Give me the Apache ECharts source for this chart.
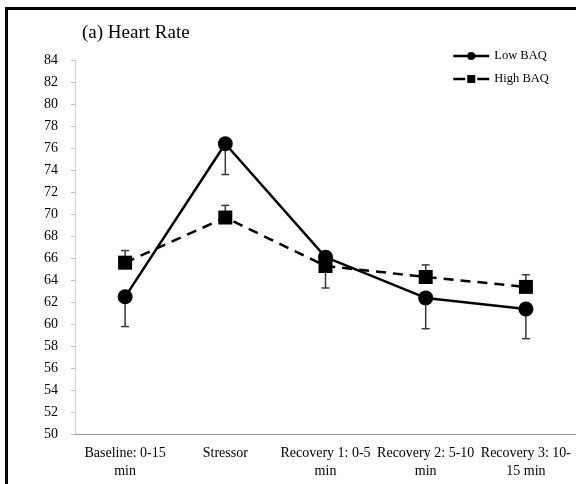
<!DOCTYPE html>
<html>
<head>
<meta charset="utf-8">
<script src="https://cdn.jsdelivr.net/npm/echarts@6/dist/echarts.min.js"></script>
<style>
  html, body { margin: 0; padding: 0; background: #fff; }
  #chart { width: 576px; height: 484px; }
</style>
</head>
<body>
<div id="chart"></div>
<script>
// categories (axis labels, wrapped like the original)
const categories = ['Baseline: 0-15\nmin', 'Stressor', 'Recovery 1: 0-5\nmin', 'Recovery 2: 5-10\nmin', 'Recovery 3: 10-\n15 min']

// mean heart rate
const lowBAQ = [62.5, 76.4, 66.1, 62.4, 61.4]
const highBAQ = [65.6, 69.7, 65.3, 64.3, 63.4]

// error bar ends (low goes down, high goes up)
const lowBAQErrEnd = [59.8, 73.6, 63.3, 59.6, 58.7]
const highBAQErrEnd = [66.7, 70.8, 66.3, 65.4, 64.5]

const yMin = 50
const yMax = 84
const yStep = 2

const font = 'Liberation Serif'

function errData(means, ends) {
  return means.map((m, i) => [i, m, ends[i]])
}

function renderErr(params, api) {
  const p0 = api.coord([api.value(0), api.value(1)])
  const p1 = api.coord([api.value(0), api.value(2)])
  const style = { stroke: '#3a3a3a', lineWidth: 1.5 }
  return {
    type: 'group',
    children: [
      { type: 'line', shape: { x1: p0[0], y1: p0[1], x2: p1[0], y2: p1[1] }, style: style },
      { type: 'line', shape: { x1: p1[0] - 4, y1: p1[1], x2: p1[0] + 4, y2: p1[1] }, style: style }
    ]
  }
}

const chart = echarts.init(document.getElementById('chart'))
chart.setOption({
  backgroundColor: '#fff',
  animation: false,
  title: {
    text: '(a) Heart Rate',
    left: 82,
    top: 24,
    padding: 0,
    textStyle: { fontFamily: font, fontSize: 19, fontWeight: 'normal', color: '#000' }
  },
  legend: {
    data: [
      { name: 'Low BAQ', lineStyle: { width: 2.5 } },
      { name: 'High BAQ', lineStyle: { width: 2.5, type: [12, 12] } }
    ],
    orient: 'vertical',
    left: 452,
    top: 49,
    padding: 0,
    itemWidth: 36,
    itemHeight: 10,
    itemGap: 9,
    textStyle: { fontFamily: font, fontSize: 12.5, color: '#000', lineHeight: 14 }
  },
  graphic: [
    {
      type: 'rect',
      shape: { x: 6.5, y: 8.5, width: 700, height: 700 },
      style: { fill: 'none', stroke: '#000', lineWidth: 3 },
      silent: true
    }
  ],
  grid: { left: 75, top: 60, width: 505, height: 374.5 },
  xAxis: {
    type: 'category',
    data: categories,
    boundaryGap: true,
    axisLine: { lineStyle: { color: '#9a9a9a', width: 1 } },
    axisTick: { length: 5, lineStyle: { color: '#9a9a9a' } },
    axisLabel: {
      fontFamily: font,
      fontSize: 14,
      color: '#000',
      lineHeight: 18,
      margin: 10,
      interval: 0
    }
  },
  yAxis: {
    type: 'value',
    min: yMin,
    max: yMax,
    interval: yStep,
    axisLine: { show: true, lineStyle: { color: '#d0d0d0', width: 1 } },
    axisTick: { show: true, length: 4, lineStyle: { color: '#bbb' } },
    splitLine: { show: false },
    axisLabel: { fontFamily: font, fontSize: 14, color: '#000', margin: 17 }
  },
  series: [
    {
      name: 'High BAQ err',
      type: 'custom',
      renderItem: renderErr,
      data: errData(highBAQ, highBAQErrEnd),
      encode: { x: 0, y: [1, 2] },
      z: 1,
      silent: true
    },
    {
      name: 'Low BAQ err',
      type: 'custom',
      renderItem: renderErr,
      data: errData(lowBAQ, lowBAQErrEnd),
      encode: { x: 0, y: [1, 2] },
      z: 1,
      silent: true
    },
    {
      name: 'High BAQ',
      type: 'line',
      data: highBAQ,
      symbol: 'rect',
      symbolSize: 14,
      itemStyle: { color: '#000' },
      lineStyle: { color: '#000', width: 2.5, type: [10, 7] },
      z: 3
    },
    {
      name: 'Low BAQ',
      type: 'line',
      data: lowBAQ,
      symbol: 'circle',
      symbolSize: 15,
      itemStyle: { color: '#000' },
      lineStyle: { color: '#000', width: 2.5 },
      z: 4
    }
  ]
})
</script>
</body>
</html>
